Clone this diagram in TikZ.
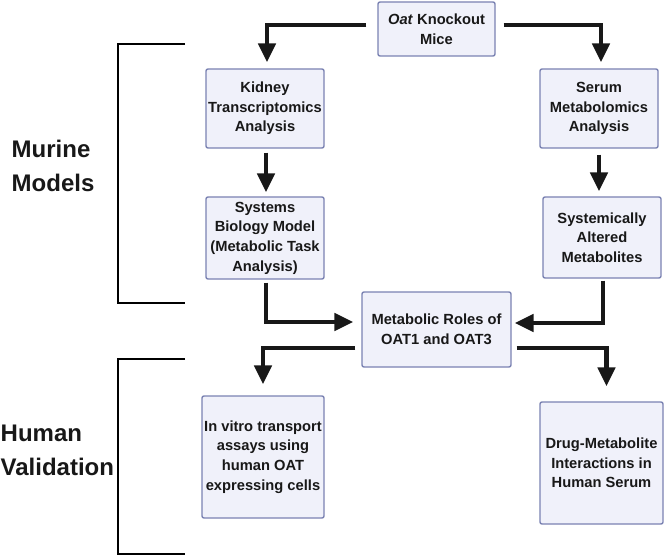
\documentclass[tikz,border=0pt]{standalone}
\usepackage{fontspec}
\setmainfont{Liberation Sans}
\usetikzlibrary{arrows.meta}
\definecolor{boxfill}{RGB}{240,241,250}
\definecolor{boxedge}{RGB}{122,130,178}
\definecolor{ink}{RGB}{24,24,24}
\tikzset{
  box/.style={draw=boxedge, fill=boxfill, line width=1.4pt, rounded corners=2pt,
    inner sep=0pt, align=center, text=ink,
    font=\bfseries\fontsize{14.7}{19.6}\selectfont},
  arr/.style={draw=ink, line width=4.6pt, -{Triangle[width=17pt,length=19pt]}},
  bracket/.style={draw=black, line width=2pt},
  sidelabel/.style={anchor=base west, inner sep=0pt, align=left, text=ink,
    font=\bfseries\fontsize{24}{34}\selectfont}
}
\begin{document}
\begin{tikzpicture}[x=1pt,y=-1pt]
\useasboundingbox (0,0) rectangle (664,556);
% boxes
\node[box, minimum width=117pt, minimum height=54pt] (oat) at (436.5,29) {\textit{Oat} Knockout\\Mice};
\node[box, minimum width=118pt, minimum height=79pt] (kidney) at (265,108.5) {Kidney\\Transcriptomics\\Analysis};
\node[box, minimum width=118pt, minimum height=79pt] (serum) at (599,108.5) {Serum\\Metabolomics\\Analysis};
\node[box, minimum width=118pt, minimum height=82pt] (systems) at (265,238) {Systems\\Biology Model\\(Metabolic Task\\Analysis)};
\node[box, minimum width=118pt, minimum height=81pt] (altered) at (602,237.5) {Systemically\\Altered\\Metabolites};
\node[box, minimum width=149pt, minimum height=75pt] (roles) at (436.5,329.5) {Metabolic Roles of\\OAT1 and OAT3};
\node[box, minimum width=122pt, minimum height=122pt] (invitro) at (263,457) {In vitro transport\\assays using\\human OAT\\expressing cells};
\node[box, minimum width=123pt, minimum height=122pt] (drug) at (601.5,463) {Drug-Metabolite\\Interactions in\\Human Serum};
% side labels (base anchor = baseline of last line)
\node[sidelabel] (murine) at (11.5,192) {Murine\\Models};
\node[sidelabel] (human) at (0.5,475) {Human\\Validation};
% brackets
\draw[bracket] (185,44) -- (118,44) -- (118,303) -- (185,303);
\draw[bracket] (185,359) -- (118,359) -- (118,554) -- (185,554);
% connectors
\draw[arr] ([xshift=-11pt,yshift=4pt]oat.west) -| ([xshift=2pt,yshift=6pt]kidney.north);
\draw[arr] ([xshift=8pt,yshift=4pt]oat.east) -| ([xshift=2pt,yshift=6pt]serum.north);
\draw[arr] ([xshift=1pt,yshift=-4pt]kidney.south) -- ([xshift=1pt,yshift=4pt]systems.north);
\draw[arr] ([yshift=-6pt]serum.south) -- ([yshift=5pt]serum.south |- altered.north);
\draw[arr] ([xshift=1pt,yshift=-3pt]systems.south) |- ([xshift=-8pt,yshift=7.5pt]roles.west);
\draw[arr] ([xshift=1pt,yshift=-2pt]altered.south) |- ([xshift=3pt,yshift=6.5pt]roles.east);
\draw[arr] ([xshift=-6pt,yshift=-18.5pt]roles.west) -| ([yshift=11pt]invitro.north);
\draw[arr] ([xshift=5pt,yshift=-18.5pt]roles.east) -| ([xshift=5pt,yshift=15pt]drug.north);
\end{tikzpicture}
\end{document}
